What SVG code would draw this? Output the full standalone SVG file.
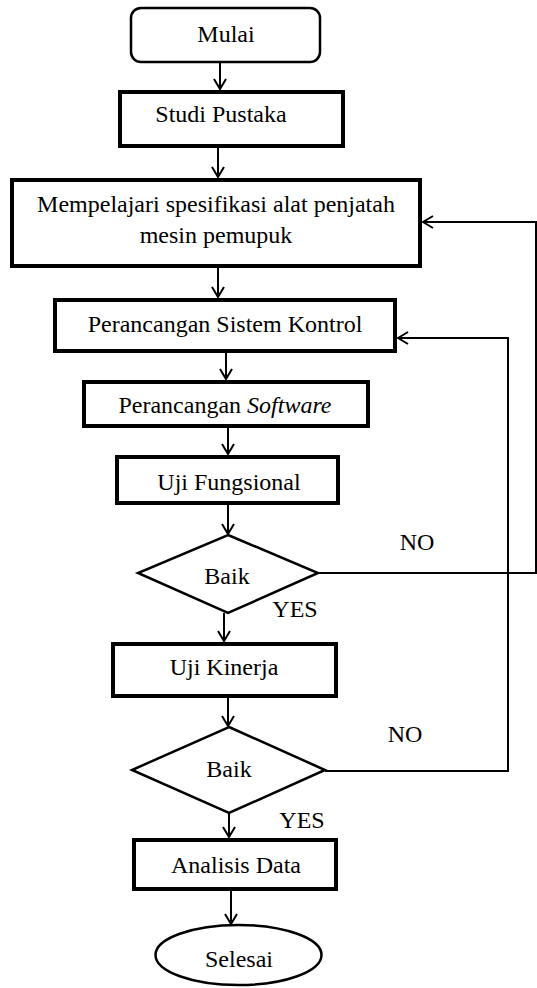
<svg xmlns="http://www.w3.org/2000/svg" width="537" height="988" viewBox="0 0 537 988">
<style>
  text { font-family: 'Liberation Serif', 'DejaVu Serif', serif; font-size: 24px; fill: #000; text-anchor: middle; }
  .box { fill: #fff; stroke: #000; stroke-width: 4; }
  .thin { fill: #fff; stroke: #000; stroke-width: 2.5; }
  .conn { fill: none; stroke: #000; stroke-width: 2; }
</style>
<defs>
  <marker id="arr" viewBox="0 0 12 14" refX="11" refY="7" markerWidth="12" markerHeight="14" markerUnits="userSpaceOnUse" orient="auto">
    <path d="M1,1 L11,7 L1,13" fill="none" stroke="#000" stroke-width="2"/>
  </marker>
</defs>

<g id="connectors">
  <line class="conn" x1="220" y1="62" x2="220" y2="89" marker-end="url(#arr)"/>
  <line class="conn" x1="218" y1="148" x2="218" y2="177" marker-end="url(#arr)"/>
  <line class="conn" x1="218" y1="268" x2="218" y2="297" marker-end="url(#arr)"/>
  <line class="conn" x1="226" y1="353" x2="226" y2="379" marker-end="url(#arr)"/>
  <line class="conn" x1="228" y1="428" x2="228" y2="454" marker-end="url(#arr)"/>
  <line class="conn" x1="228" y1="505" x2="228" y2="534" marker-end="url(#arr)"/>
  <line class="conn" x1="224" y1="613" x2="224" y2="641" marker-end="url(#arr)"/>
  <line class="conn" x1="228" y1="698" x2="228" y2="726" marker-end="url(#arr)"/>
  <line class="conn" x1="229" y1="813" x2="229" y2="837" marker-end="url(#arr)"/>
  <line class="conn" x1="231" y1="891" x2="231" y2="924" marker-end="url(#arr)"/>
  <polyline class="conn" points="318,573 536,573 536,222 423,222" marker-end="url(#arr)"/>
  <polyline class="conn" points="325,771 508,771 508,338 398,338" marker-end="url(#arr)"/>
</g>

<g id="mulai">
  <rect class="thin" x="131" y="8" width="189" height="54" rx="10" ry="10"/>
  <text x="226" y="42" font-family="Liberation Serif">Mulai</text>
</g>
<g id="studi">
  <rect class="box" x="120" y="92" width="223" height="54"/>
  <text x="221" y="122">Studi Pustaka</text>
</g>
<g id="mempelajari">
  <rect class="box" x="12" y="180" width="408" height="86"/>
  <text x="216" y="212">Mempelajari spesifikasi alat penjatah</text>
  <text x="216" y="243">mesin pemupuk</text>
</g>
<g id="sistem">
  <rect class="box" x="55" y="300" width="340" height="51"/>
  <text x="225" y="332">Perancangan Sistem Kontrol</text>
</g>
<g id="software">
  <rect class="box" x="84" y="382" width="284" height="44"/>
  <text x="225" y="413">Perancangan <tspan font-style="italic">Software</tspan></text>
</g>
<g id="fungsional">
  <rect class="box" x="117" y="457" width="221" height="46"/>
  <text x="229" y="490">Uji Fungsional</text>
</g>
<g id="baik1">
  <polygon class="thin" points="228,535 318,573 228,613 138,573"/>
  <text x="227" y="584">Baik</text>
</g>
<text x="417" y="550">NO</text>
<text x="295" y="617">YES</text>
<g id="kinerja">
  <rect class="box" x="113" y="644" width="223" height="52"/>
  <text x="224" y="675">Uji Kinerja</text>
</g>
<g id="baik2">
  <polygon class="thin" points="229,727 325,770 229,813 132,770"/>
  <text x="229" y="777">Baik</text>
</g>
<text x="405" y="742">NO</text>
<text x="302" y="828">YES</text>
<g id="analisis">
  <rect class="box" x="134" y="840" width="202" height="49"/>
  <text x="236" y="873">Analisis Data</text>
</g>
<g id="selesai">
  <ellipse class="thin" cx="238.5" cy="955" rx="83" ry="30"/>
  <text x="239" y="967">Selesai</text>
</g>
</svg>
